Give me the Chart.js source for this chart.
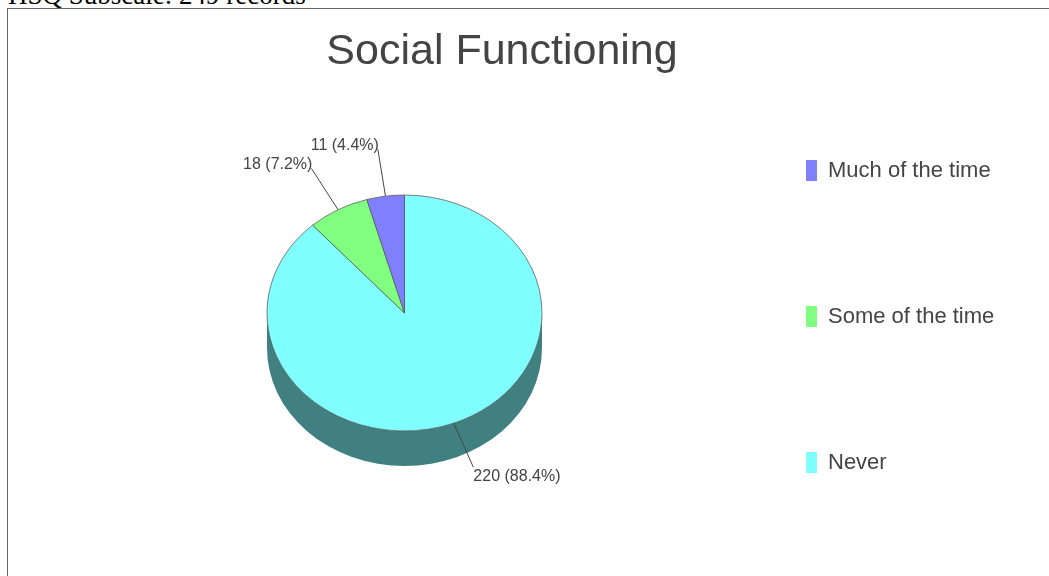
<!DOCTYPE html>
<html>
<head>
<meta charset="utf-8">
<script src="https://cdn.jsdelivr.net/npm/chart.js@4.4.1/dist/chart.umd.min.js"></script>
<style>
  html, body { margin: 0; padding: 0; background: #fff; overflow: hidden; width: 1049px; height: 576px; }
  #hdr { position: absolute; left: 8px; top: -18px; margin: 0; font: normal 27px/27px "Liberation Serif", "Times New Roman", serif; color: #000; white-space: nowrap; }
  #frame { position: absolute; left: 7px; top: 8px; width: 1100px; height: 700px; border-left: 1px solid #666; border-top: 1px solid #666; }
  #wrap { position: absolute; left: 8px; top: 9px; width: 1000px; height: 567px; }
</style>
</head>
<body>
<div id="hdr">HSQ Subscale: 249 records</div>
<div id="frame"></div>
<div id="wrap"><canvas id="c" width="1000" height="567"></canvas></div>
<script>
// Social Functioning responses
const chartTitle = 'Social Functioning';
const categories = ['Much of the time', 'Some of the time', 'Never'];
const counts = [11, 18, 220];
const colors = ['#8080ff', '#80ff80', '#80ffff'];

const total = counts.reduce((a, b) => a + b, 0);

// slices run clockwise from 12 o'clock, so feed them in reverse order
const order = categories.map((_, i) => i).reverse();

const TILT = 118 / 137.5;   // vertical squash of the disc
const DEPTH = 35;           // thickness of the disc (px)
const FONT = '"Liberation Sans", Arial, Helvetica, sans-serif';
const TEXT = '#444';

function shade(hex, f) {
  const n = parseInt(hex.slice(1), 16);
  const r = Math.round(((n >> 16) & 255) * f);
  const g = Math.round(((n >> 8) & 255) * f);
  const b = Math.round((n & 255) * f);
  return `rgb(${r},${g},${b})`;
}

const pie3d = {
  id: 'pie3d',
  beforeDatasetsDraw(chart) {
    const ctx = chart.ctx;
    const arcs = chart.getDatasetMeta(0).data;
    const { x, y, outerRadius: r } = arcs[0];
    ctx.save();
    ctx.translate(x, y);
    ctx.scale(1, TILT);
    ctx.translate(-x, -y);
    const d = DEPTH / TILT;
    arcs.forEach((arc, i) => {
      const a0 = Math.max(arc.startAngle, 0);
      const a1 = Math.min(arc.endAngle, Math.PI);
      if (a1 <= a0) return;
      ctx.beginPath();
      ctx.arc(x, y, r, a0, a1);
      ctx.arc(x, y + d, r, a1, a0, true);
      ctx.closePath();
      ctx.fillStyle = shade(colors[order[i]], 0.5);
      ctx.fill();
    });
  },
  afterDatasetsDraw(chart) {
    chart.ctx.restore();
  },
  afterDraw(chart) {
    const ctx = chart.ctx;
    const arcs = chart.getDatasetMeta(0).data;
    ctx.save();

    // title
    ctx.fillStyle = TEXT;
    ctx.font = `43px ${FONT}`;
    ctx.textAlign = 'center';
    ctx.textBaseline = 'alphabetic';
    ctx.fillText(chartTitle, 494, 55);

    // slice labels with leader lines
    ctx.font = `16px ${FONT}`;
    ctx.strokeStyle = '#444';
    ctx.lineWidth = 1;
    arcs.forEach((arc, i) => {
      const idx = order[i];
      const mid = (arc.startAngle + arc.endAngle) / 2;
      const r = arc.outerRadius;
      const cx = arc.x, cy = arc.y;
      const x0 = cx + r * Math.cos(mid), y0 = cy + r * TILT * Math.sin(mid);
      const x1 = cx + 1.4 * r * Math.cos(mid), y1 = cy + 1.4 * r * TILT * Math.sin(mid);
      ctx.beginPath();
      ctx.moveTo(x0, y0);
      ctx.lineTo(x1, y1);
      ctx.stroke();
      const pct = (counts[idx] / total * 100).toFixed(1);
      const txt = `${counts[idx]} (${pct}%)`;
      ctx.textAlign = x1 < cx ? 'right' : 'left';
      if (y1 < cy) {
        ctx.textBaseline = 'alphabetic';
        ctx.fillText(txt, x1 + (x1 < cx ? 1 : 0), y1 + 1);
      } else {
        ctx.textBaseline = 'top';
        ctx.fillText(txt, x1, y1 + 1);
      }
    });

    // legend
    ctx.font = `22px ${FONT}`;
    ctx.textAlign = 'left';
    ctx.textBaseline = 'middle';
    categories.forEach((name, i) => {
      const yc = 161.5 + i * 146;
      ctx.fillStyle = colors[i];
      ctx.fillRect(798, yc - 10.5, 11, 21);
      ctx.fillStyle = TEXT;
      ctx.fillText(name, 820, yc);
    });
    ctx.restore();
  }
};

new Chart(document.getElementById('c'), {
  type: 'pie',
  data: {
    labels: order.map(i => categories[i]),
    datasets: [{
      data: order.map(i => counts[i]),
      backgroundColor: order.map(i => colors[i]),
      borderColor: '#555',
      borderWidth: 0.8,
      hoverOffset: 0,
      radius: 137.5,
      clip: false
    }]
  },
  options: {
    responsive: false,
    devicePixelRatio: 1,
    animation: false,
    rotation: 0,
    layout: { padding: { left: 0, right: 207, top: 41, bottom: 0 } },
    plugins: {
      legend: { display: false },
      title: { display: false },
      tooltip: { enabled: false }
    },
    events: []
  },
  plugins: [pie3d]
});
</script>
</body>
</html>
